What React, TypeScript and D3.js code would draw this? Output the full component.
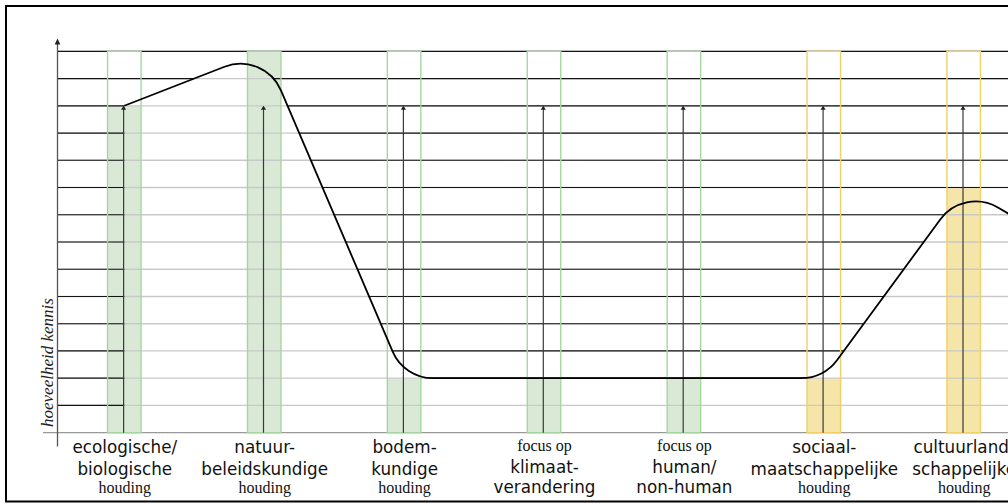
import React from "react";
import * as d3 from "d3";

const categories = ["ecologisch", "natuurbeleid", "bodem", "klimaat", "human", "sociaal", "cultuur"];
const sansLines = [
  ["ecologische/", "biologische"],
  ["natuur-", "beleidskundige"],
  ["bodem-", "kundige"],
  ["klimaat-", "verandering"],
  ["human/", "non-human"],
  ["sociaal-", "maatschappelijke"],
  ["cultuurland-", "schappelijke"],
];
const serifBefore = ["", "", "", "focus op", "focus op", "", ""];
const serifAfter = ["houding", "houding", "houding", "", "", "houding", "houding"];
const bandTheme = ["green", "green", "green", "green", "green", "yellow", "yellow"];
const fillLevels = [12, 14, 2, 2, 2, 2, 9];
const arrowLevels = [12, 12, 12, 12, 12, 12, 12];
// curve goes on beyond the visible part (8th position off-canvas)
const curveLevels = [12, 14, 2, 2, 2, 2, 9, 6];
const gridLevels = d3.range(0, 15);
const yLabel = "hoeveelheid kennis";

const W = 1008;
const H = 504;
const x = d3.scaleLinear().domain([0, 7]).range([124.3, 124.3 + 7 * 139.9]);
const y = d3.scaleLinear().domain([0, 14]).range([432.7, 51.3]);
const bandW = 33.5;
const axisX = 57.5;
const R = 44;

const theme: Record<string, { fill: string; stroke: string }> = {
  green: { fill: "#d9e9d6", stroke: "#a6d6a0" },
  yellow: { fill: "#f6e5a8", stroke: "#f0d067" },
};

function traceCurve(ctx: d3.Path, pts: [number, number][], move: boolean) {
  if (move) ctx.moveTo(pts[0][0], pts[0][1]);
  else ctx.lineTo(pts[0][0], pts[0][1]);
  for (let i = 1; i < pts.length - 1; i++) {
    ctx.arcTo(pts[i][0], pts[i][1], pts[i + 1][0], pts[i + 1][1], R);
  }
  const last = pts[pts.length - 1];
  ctx.lineTo(last[0], last[1]);
}

export default function App() {
  const pts: [number, number][] = curveLevels.map((v, i) => [x(i), y(v)]);
  const cp = d3.path();
  traceCurve(cp, pts, true);
  const curveD = cp.toString();

  const clip = d3.path();
  clip.moveTo(0, -10);
  clip.lineTo(0, H + 10);
  clip.lineTo(pts[0][0], H + 10);
  traceCurve(clip, pts, false);
  clip.lineTo(pts[pts.length - 1][0], -10);
  clip.closePath();

  const gridRight = x(7) + 40;
  const sansFont = "'DejaVu Sans', Lato, sans-serif";
  const sansSize = 16.8;
  const serifFont = "'Liberation Serif', 'DejaVu Serif', serif";

  return (
    <svg
      width={W}
      height={H}
      style={{ position: "fixed", left: 0, top: 0, background: "#fff" }}
    >
      <defs>
        <clipPath id="aboveCurve">
          <path d={clip.toString()} />
        </clipPath>
      </defs>
      <rect x={0} y={0} width={W} height={H} fill="#fff" />
      <rect x={6} y={6} width={1200} height={495.5} fill="none" stroke="#000" strokeWidth={2} />

      {/* band fills */}
      {categories.map((c, i) => (
        <rect
          key={"bf" + c}
          x={x(i) - bandW / 2}
          y={y(fillLevels[i])}
          width={bandW}
          height={y(0) - y(fillLevels[i])}
          fill={theme[bandTheme[i]].fill}
        />
      ))}

      {/* grid lines: light grey below the curve, dark above */}
      {gridLevels.map((g) => (
        <line
          key={"gl" + g}
          x1={g === 0 ? 43 : axisX}
          x2={gridRight}
          y1={y(g)}
          y2={y(g)}
          stroke={g === 0 ? "#999" : "#c9c9c9"}
          strokeWidth={1.3}
        />
      ))}
      <g clipPath="url(#aboveCurve)">
        {gridLevels
          .filter((g) => g > 0)
          .map((g) => (
            <line
              key={"gd" + g}
              x1={axisX}
              x2={gridRight}
              y1={y(g)}
              y2={y(g)}
              stroke="#151515"
              strokeWidth={1.2}
            />
          ))}
      </g>

      {/* band outlines */}
      {categories.map((c, i) => (
        <rect
          key={"bo" + c}
          x={x(i) - bandW / 2}
          y={y(14)}
          width={bandW}
          height={y(0) - y(14)}
          fill="none"
          stroke={theme[bandTheme[i]].stroke}
          strokeWidth={1.4}
        />
      ))}

      {/* y axis */}
      <line x1={axisX} x2={axisX} y1={41} y2={446.5} stroke="#555" strokeWidth={1.3} />
      <path
        d={`M${axisX - 2.8},${44.5}L${axisX},${38.5}L${axisX + 2.8},${44.5}Z`}
        fill="#222"
      />
      <text
        transform={`translate(52.5, 427) rotate(-90)`}
        fontFamily={serifFont}
        fontStyle="italic"
        fontSize={17}
        fill="#222"
      >
        {yLabel}
      </text>

      {/* arrows */}
      {categories.map((c, i) => {
        const ax = x(i) - 0.7;
        const top = y(arrowLevels[i]);
        return (
          <g key={"ar" + c}>
            <line x1={ax} x2={ax} y1={y(0)} y2={top + 1} stroke="#3a3a3a" strokeWidth={1.2} />
            <path
              d={`M${ax - 2.6},${top + 4}L${ax},${top}L${ax + 2.6},${top + 4}Z`}
              fill="#222"
            />
          </g>
        );
      })}

      {/* curve */}
      <path d={curveD} fill="none" stroke="#000" strokeWidth={1.8} />

      {/* labels */}
      {categories.map((c, i) => {
        const cx = x(i) + 0.5;
        const pre = serifBefore[i];
        const post = serifAfter[i];
        return (
          <g key={"lb" + c} textAnchor="middle" fill="#111">
            {pre ? (
              <>
                <text x={cx} y={450.7} fontFamily={serifFont} fontSize={16}>
                  {pre}
                </text>
                <text x={cx} y={473.3} fontFamily={sansFont} fontSize={sansSize}>
                  {sansLines[i][0]}
                </text>
                <text x={cx} y={493} fontFamily={sansFont} fontSize={sansSize}>
                  {sansLines[i][1]}
                </text>
              </>
            ) : (
              <>
                <text x={cx} y={452.7} fontFamily={sansFont} fontSize={sansSize}>
                  {sansLines[i][0]}
                </text>
                <text x={cx} y={475} fontFamily={sansFont} fontSize={sansSize}>
                  {sansLines[i][1]}
                </text>
                <text x={cx} y={493.3} fontFamily={serifFont} fontSize={16}>
                  {post}
                </text>
              </>
            )}
          </g>
        );
      })}
    </svg>
  );
}
